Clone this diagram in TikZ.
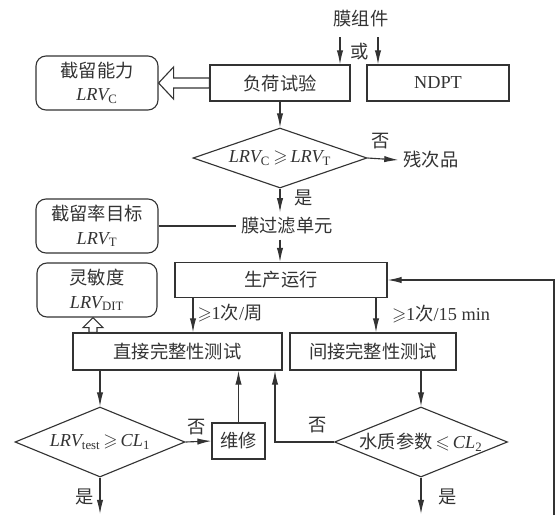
\documentclass[tikz,border=0pt]{standalone}
\usepackage{amssymb}
\usepackage{fontspec}
\setmainfont{Liberation Serif}
\newfontfamily\cjk{Noto Sans CJK SC}
\usetikzlibrary{shapes.geometric,arrows.meta,calc}
\newcommand{\pxu}{0.025cm}
\newcommand{\lrv}[1]{{\rmfamily\itshape LRV}\textsubscript{\rmfamily #1}}
\newcommand{\la}[1]{{\rmfamily #1}}
\tikzset{%
    box/.style={draw, rectangle, inner sep=0pt,
        minimum width=#1*\pxu, minimum height=36*\pxu},
    result/.style={draw, rectangle, rounded corners=0.25cm, align=center,
        inner sep=0pt, minimum width=122*\pxu, minimum height=54*\pxu},
    test/.style={draw, diamond, inner sep=-1pt, aspect=#1},
    hollow/.style={draw, fill=white, line join=miter}
}
\begin{document}
\begin{tikzpicture}[x=\pxu, y=-\pxu, color=black!80, line width=0.8pt,
    font=\cjk\fontsize{13}{16.5}\selectfont,
    >={Latex[length=10pt,width=4.5pt]}]
    \useasboundingbox (0,0) rectangle (558,515);
    \node (module) at (361,19) {膜组件};
    \node (or) at (360,52) {或};
    \node[box=140] (load) at (280,83) {负荷试验};
    \node[box=142] (ndpt) at (438,83) {\la{NDPT}};
    \node[result] (lrvc) at (97,83) {截留能力\\\lrv{C}};
    \coordinate (in1) at (340,37);
    \coordinate (in2) at (378,37);
    \draw[->] (in1) -- (in1 |- load.north);
    \draw[->] (in2) -- (in2 |- ndpt.north);
    \draw[hollow] (lrvc.east) -- ++(15,-16) -- ++(0,11) -- ($(load.west)+(0,-5)$)
        -- ($(load.west)+(0,5)$) -- ($(lrvc.east)+(15,5)$) -- ++(0,11) -- cycle;
    \node[test=2.9, minimum width=174*\pxu, minimum height=60*\pxu] (chk1) at (280,158)
        {\lrv{C}\,$\geqslant$\,\lrv{T}};
    \draw[->] (load.south) -- (chk1.north);
    \node (reject) at (431,160) {残次品};
    \node (no1) at (381,141) {否};
    \draw[->] (chk1.east) -- (reject.west);
    \node (unit) at (287,226) {膜过滤单元};
    \node (yes1) at (304,198) {是};
    \draw[->] (chk1.south) -- (chk1.south |- unit.north);
    \node[result] (target) at (97,226) {截留率目标\\\lrv{T}};
    \draw (target.east) -- (unit.west);
    \node[box=212, minimum height=35*\pxu] (prod) at (281,280) {生产运行};
    \draw[->] (unit.south -| chk1.south) -- (chk1.south |- prod.north);
    \node[result, minimum width=120*\pxu] (sens) at (97,290) {灵敏度\\\lrv{DIT}};
    \node[box=209, minimum height=37*\pxu] (direct) at (177.5,351.5) {直接完整性测试};
    \node[box=166, minimum height=37*\pxu] (indirect) at (373,351.5) {间接完整性测试};
    \coordinate (weekly) at (193,0);
    \coordinate (often) at (376,0);
    \draw[->] (prod.south -| weekly) -- (direct.north -| weekly);
    \draw[->] (prod.south -| often) -- (indirect.north -| often);
    \node (freq1) at (230,313) {$\geqslant$\la{1}次\la{/}周};
    \node (freq2) at (441,314) {$\geqslant$\la{1}次\la{/15 min}};
    \coordinate (dtip) at ($(sens.south)+(-4,0)$);
    \coordinate (dtail) at (dtip |- direct.north);
    \draw[hollow] (dtip) -- ++(10,10) -- ++(-6,0) -- ($(dtail)+(4,0)$)
        -- ($(dtail)+(-4,0)$) -- ($(dtip)+(-4,10)$) -- ++(-6,0) -- cycle;
    \node[test=2.43, minimum width=170*\pxu, minimum height=70*\pxu] (chk2) at (100,442)
        {\lrv{test}\,$\geqslant$\,{\rmfamily\itshape CL}\textsubscript{\rmfamily 1}};
    \draw[->] (direct.south -| chk2.north) -- (chk2.north);
    \node[box=53] (repair) at (238.5,441) {维修};
    \node (no2) at (197,427) {否};
    \draw[->] (chk2.east) -- (repair.west);
    \draw[->] (repair.north) -- (repair.north |- direct.south);
    \coordinate (bottom) at (0,514);
    \draw[->] (chk2.south) -- (chk2.south |- bottom);
    \node (yes2) at (85,497) {是};
    \node[test=2.47, minimum width=173*\pxu, minimum height=70*\pxu] (chk3) at (421,442)
        {水质参数\,$\leqslant$\,{\rmfamily\itshape CL}\textsubscript{\rmfamily 2}};
    \draw[->] (indirect.south -| chk3.north) -- (chk3.north);
    \coordinate (back) at (275,0);
    \draw[->] (chk3.west) -- (chk3.west -| back) -- (direct.south -| back);
    \node (no3) at (318,425) {否};
    \draw[->] (chk3.south) -- (chk3.south |- bottom);
    \node (yes3) at (448,497) {是};
    \coordinate (loop) at (554,515);
    \draw[->] (loop) |- (prod.east);
\end{tikzpicture}
\end{document}
